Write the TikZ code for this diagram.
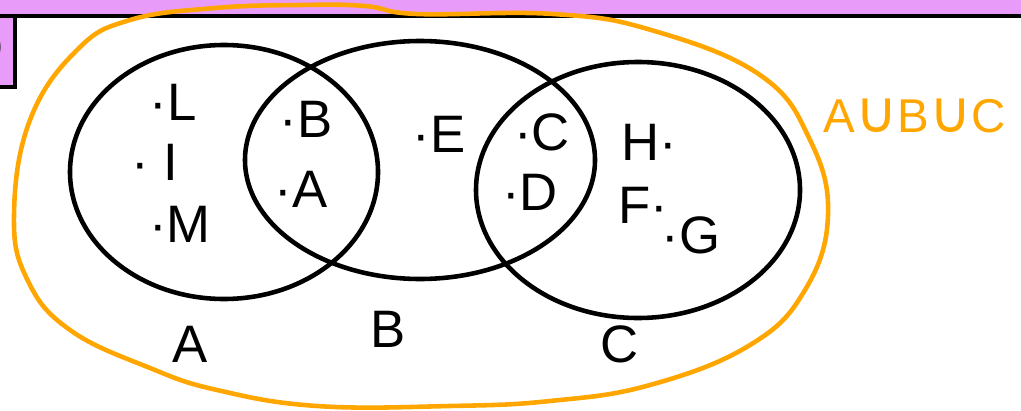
\documentclass[tikz,border=0pt]{standalone}
\usepackage{fontspec}
\setmainfont{Liberation Sans}
\newfontfamily\symfont{DejaVu Sans}
\definecolor{bandpurple}{RGB}{233,155,250}
\definecolor{unionorange}{RGB}{255,166,0}
\begin{document}
\begin{tikzpicture}[x=1cm,y=1cm,
  venn/.style={draw=black, line width=2.6pt},
  elem/.style={anchor=base, inner sep=0pt, font=\fontsize{30}{32}\selectfont},
  setname/.style={anchor=base, inner sep=0pt, font=\fontsize{30}{32}\selectfont}]
\useasboundingbox (0,0) rectangle (20.42,-8.2);
% header strip
\fill[bandpurple] (-0.1,0.1) rectangle (20.52,-0.32);
\draw[line width=2.4pt] (-0.1,-0.32) -- (20.52,-0.32);
\draw[fill=bandpurple, line width=2pt] (-0.3,-0.32) rectangle (0.3,-1.74);
\node[anchor=east, inner sep=0pt, font=\fontsize{22}{24}\selectfont] (part) at (0.08,-0.95) {)};
% union outline
\draw[unionorange, line width=2.6pt] plot[smooth cycle, tension=0.7] coordinates {
  (0.28,-4.3) (0.6,-2.4) (1.54,-1.0) (2.6,-0.4) (4.3,-0.16) (6.0,-0.1) (7.3,-0.12)
  (8.34,-0.28) (11.06,-0.28) (13.02,-0.6) (15.2,-1.5) (16.2,-2.8) (16.56,-4.3)
  (16.1,-5.8) (15.0,-6.9) (13.0,-7.7) (11.0,-8.02) (9.0,-8.12) (6.34,-8.12) (4.34,-7.8)
  (3.0,-7.36) (1.4,-6.6) (0.55,-5.6)};
% the three sets
\draw[venn] (4.48,-3.44) ellipse [x radius=3.08, y radius=2.54];
\draw[venn] (8.4,-3.2) ellipse [x radius=3.5, y radius=2.38];
\draw[venn] (12.76,-3.8) ellipse [x radius=3.24, y radius=2.56];
% elements
\node[elem] (eL) at (3.46,-2.4) {·L};
\node[elem] (eI) at (3.1,-3.6) {· I};
\node[elem] (eM) at (3.6,-4.84) {·M};
\node[elem] (eB) at (6.12,-2.74) {·B};
\node[elem] (eA) at (6.02,-4.14) {·A};
\node[elem] (eE) at (8.78,-3.04) {·E};
\node[elem] (eC) at (10.84,-3.0) {·C};
\node[elem] (eD) at (10.6,-4.2) {·D};
\node[elem] (eH) at (12.98,-3.2) {H·};
\node[elem] (eF) at (12.86,-4.46) {F·};
\node[elem] (eG) at (13.82,-5.06) {·G};
% set names
\node[setname] (setA) at (3.8,-7.24) {A};
\node[setname] (setB) at (7.76,-6.94) {B};
\node[setname] (setC) at (12.4,-7.24) {C};
\node[setname, text=unionorange, font=\fontsize{27}{29}\selectfont] (union) at (18.3,-2.64)
  {A{\symfont\fontsize{33}{35}\selectfont ∪}B{\symfont\fontsize{33}{35}\selectfont ∪}C};
\end{tikzpicture}
\end{document}
